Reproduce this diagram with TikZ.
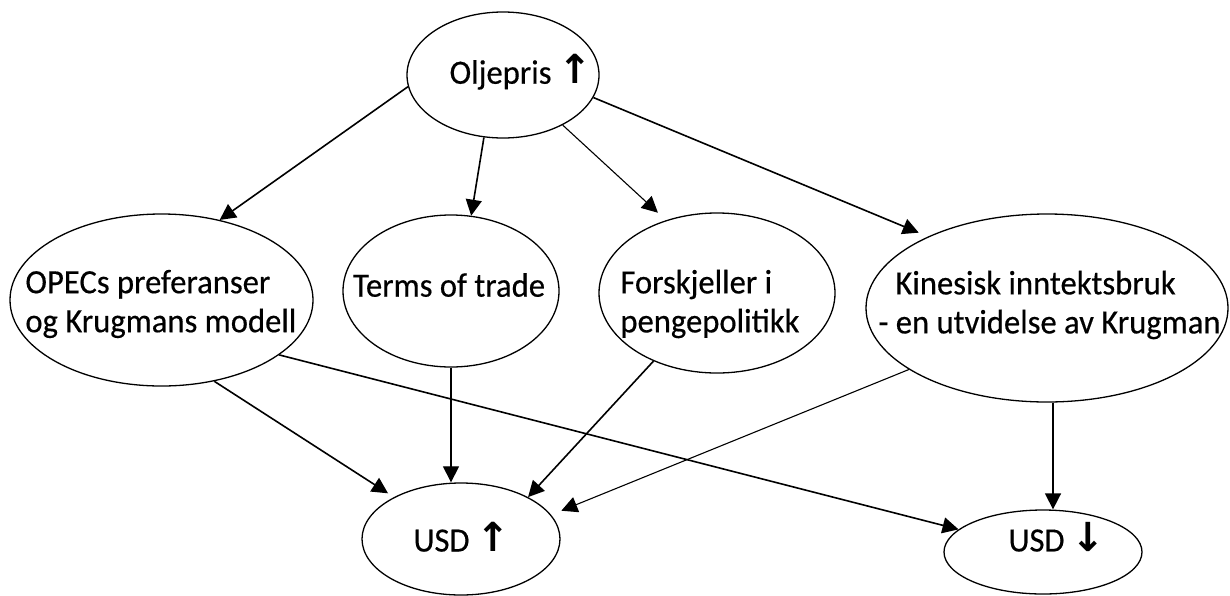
\documentclass[tikz,border=0pt]{standalone}
\usepackage{fontspec}
\setmainfont{Carlito}[FakeBold=0.4, FakeStretch=0.96]
\newfontfamily\arrowfont{DejaVu Sans Bold}
\usetikzlibrary{arrows.meta,shapes.geometric,calc}
\begin{document}
\begin{tikzpicture}[x=0.5pt,y=-0.5pt,
  bubble/.style={draw, ellipse, line width=0.65pt, inner sep=0pt},
  txt/.style={inner sep=0pt, font=\fontsize{17}{19.5}\selectfont, align=left},
  arr/.style={line width=0.8pt, -{Triangle[width=8pt,length=8pt]}},
  thinarr/.style={arr, line width=0.55pt}]
\useasboundingbox (0,0) rectangle (1230,595);
% ellipses
\node[bubble, minimum width=96pt,    minimum height=63pt] (olj)   at (503,75)    {};
\node[bubble, minimum width=151.5pt, minimum height=86pt] (opec)  at (161.5,300) {};
\node[bubble, minimum width=108pt,   minimum height=76pt] (tot)   at (451,291)   {};
\node[bubble, minimum width=118pt,   minimum height=80pt] (fors)  at (717,293)   {};
\node[bubble, minimum width=181pt,   minimum height=94pt] (kin)   at (1047,308)  {};
\node[bubble, minimum width=99pt,    minimum height=56pt] (usdup) at (461,539)   {};
\node[bubble, minimum width=99pt,    minimum height=42pt] (usddn) at (1043,552)  {};
% texts
\node[txt] (tolj) at (521,72) {Oljepris {\arrowfont\fontsize{20}{20}\selectfont ↑}};
\node[txt, anchor=west] (topec) at (25,304) {OPECs preferanser\\og Krugmans modell};
\node[txt] (ttot) at (449,285) {Terms of trade};
\node[txt, anchor=west] (tfors) at (620,304) {Forskjeller i\\pengepolitikk};
\node[txt, anchor=west] (tkin) at (878,305) {\hspace*{8.5pt}Kinesisk inntektsbruk\\- en utvidelse av Krugman};
\node[txt] (tusdup) at (462,537) {USD {\arrowfont\fontsize{20}{20}\selectfont ↑}};
\node[txt] (tusddn) at (1057,537) {USD {\arrowfont\fontsize{20}{20}\selectfont ↓}};
% connectors
\draw[arr] (olj.187) -- (opec.54.5);
\draw[arr] (olj.253) -- (tot.75);
\draw[thinarr, shorten >=5.5pt] (olj.-40) -- (fors.125.1);
\draw[arr, shorten >=5pt] (olj.-14.7) -- (kin.149);
\draw[arr, shorten >=3.5pt] (opec.-57) -- (usdup.148.5);
\draw[arr] (opec.-25.9) -- (usddn.165.9);
\draw[thinarr] (tot.south) -- (tot.south |- usdup.north);
\draw[arr] (fors.227.3) -- (usdup.32.5);
\draw[thinarr, shorten >=5.5pt] (kin.204.9) -- (usdup.15.7);
\coordinate (k1) at ([xshift=3pt]kin.south);
\draw[arr] (k1) -- (k1 |- usddn.north);
\end{tikzpicture}
\end{document}
